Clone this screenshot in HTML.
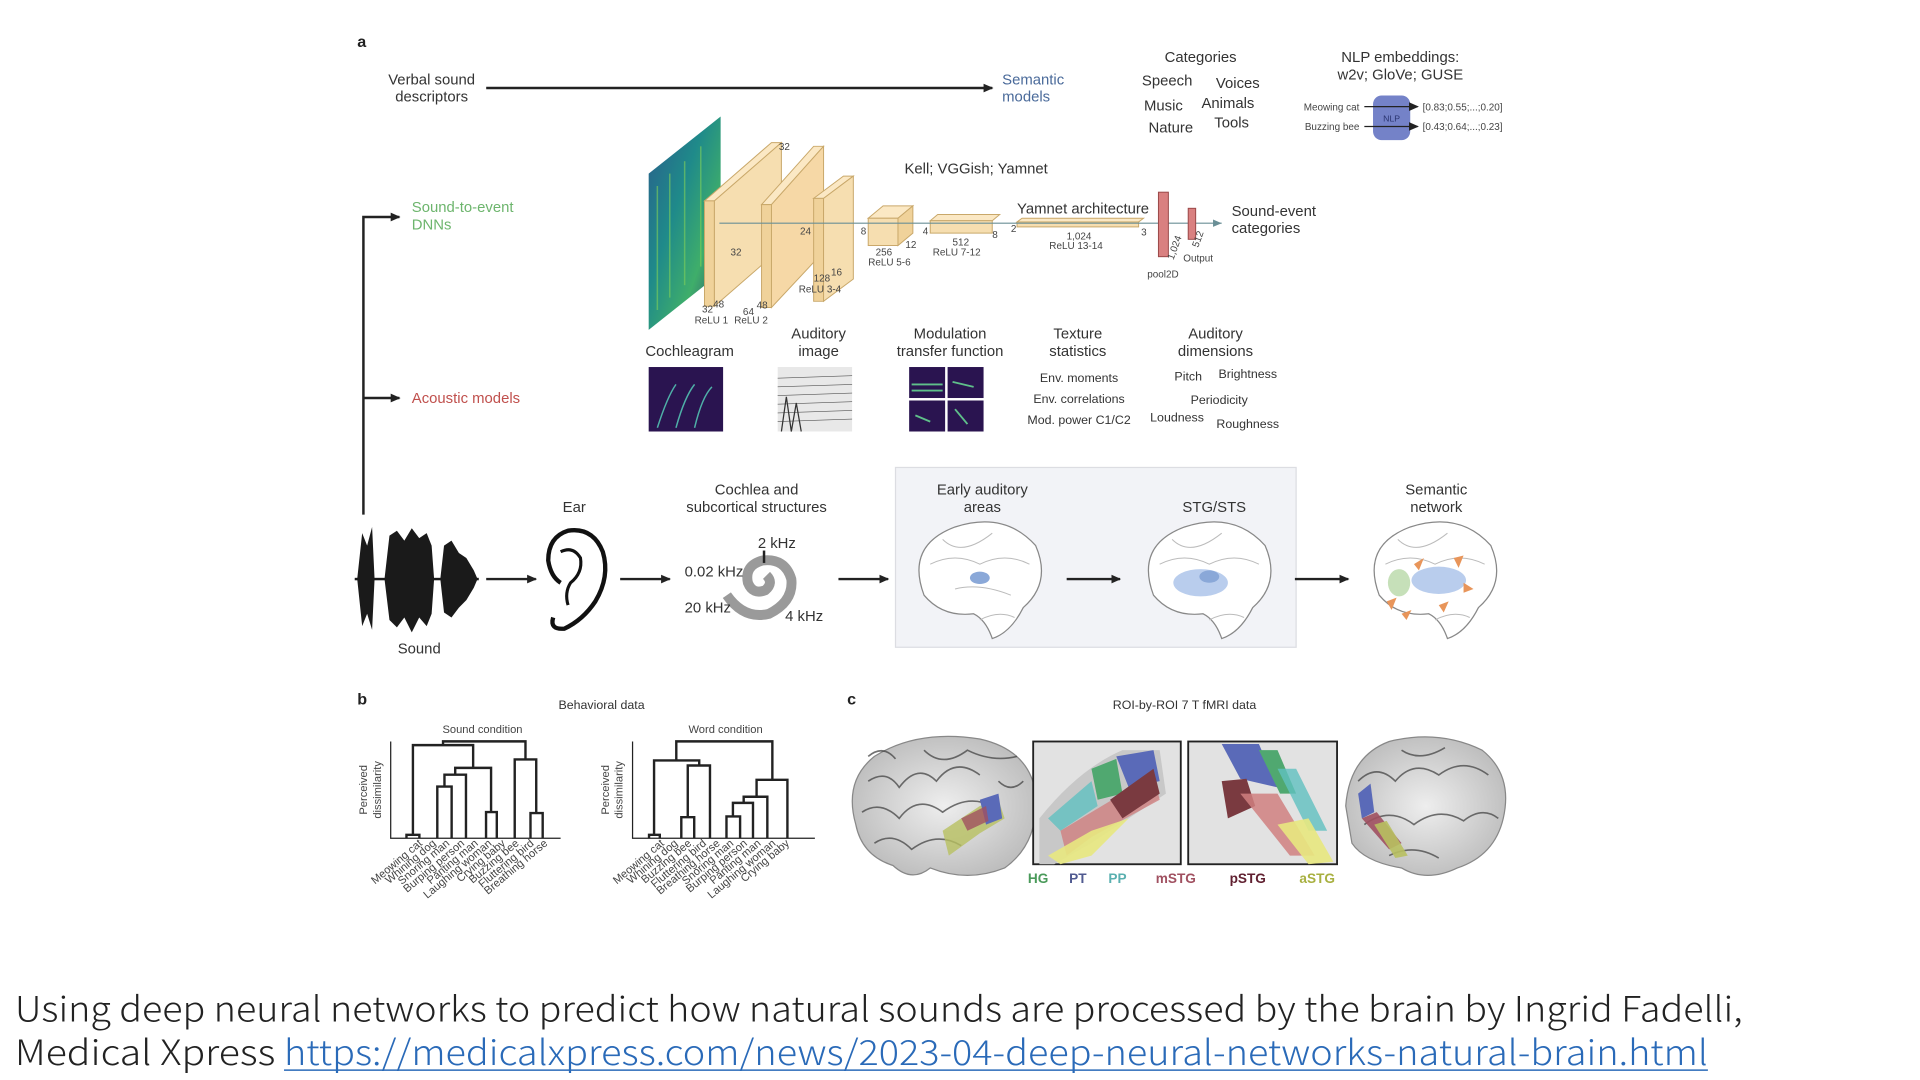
<!DOCTYPE html>
<html><head><meta charset="utf-8"><style>
html,body{margin:0;padding:0;background:#fff;}
svg{display:block;}
text{font-family:"Liberation Sans",sans-serif;}
.t{font-size:12px;fill:#333;}
.s{font-size:8px;fill:#444;}
.m{font-size:10px;fill:#333;}
</style></head><body>
<svg width="1920" height="1080" viewBox="0 0 1548 871" preserveAspectRatio="none" xmlns="http://www.w3.org/2000/svg">
<defs>
<marker id="ar" markerWidth="8" markerHeight="8" refX="7" refY="4" orient="auto" markerUnits="userSpaceOnUse"><path d="M0,0.5 L8,4 L0,7.5 z" fill="#222"/></marker>
<marker id="ag" markerWidth="8" markerHeight="8" refX="7" refY="4" orient="auto" markerUnits="userSpaceOnUse"><path d="M0,1 L7,4 L0,7 z" fill="#6a8f96"/></marker>
<linearGradient id="spec" x1="0" y1="0" x2="1" y2="1"><stop offset="0" stop-color="#2a5c8c"/><stop offset="0.4" stop-color="#1f8a8a"/><stop offset="0.7" stop-color="#3fae6a"/><stop offset="1" stop-color="#2b3f78"/></linearGradient>
<radialGradient id="gb" cx="0.5" cy="0.5" r="0.6"><stop offset="0" stop-color="#eeeeee"/><stop offset="1" stop-color="#b8b8b8"/></radialGradient>
</defs>

<text x="288" y="38" font-size="13" font-weight="bold" fill="#222">a</text>
<text class="t" x="348" y="68" text-anchor="middle">Verbal sound</text>
<text class="t" x="348" y="82" text-anchor="middle">descriptors</text>
<line x1="392" y1="71" x2="800" y2="71" stroke="#222" stroke-width="2" marker-end="url(#ar)"/>
<text class="t" x="808" y="68" style="fill:#4a6a9a">Semantic</text>
<text class="t" x="808" y="82" style="fill:#4a6a9a">models</text>

<text class="t" x="968" y="50" text-anchor="middle">Categories</text>
<text class="t" x="941" y="69" text-anchor="middle">Speech</text>
<text class="t" x="998" y="71" text-anchor="middle">Voices</text>
<text class="t" x="938" y="89" text-anchor="middle">Music</text>
<text class="t" x="990" y="87" text-anchor="middle">Animals</text>
<text class="t" x="944" y="107" text-anchor="middle">Nature</text>
<text class="t" x="993" y="103" text-anchor="middle">Tools</text>

<text class="t" x="1129" y="50" text-anchor="middle">NLP embeddings:</text>
<text class="t" x="1129" y="64" text-anchor="middle">w2v; GloVe; GUSE</text>
<rect x="1107" y="77" width="30" height="36" rx="7" fill="#7482c8"/>
<text x="1122" y="98" font-size="7" fill="#2a3470" text-anchor="middle">NLP</text>
<line x1="1100" y1="86" x2="1143" y2="86" stroke="#222" stroke-width="1" marker-end="url(#ar)"/>
<line x1="1100" y1="102" x2="1143" y2="102" stroke="#222" stroke-width="1" marker-end="url(#ar)"/>
<text class="s" x="1096" y="89" text-anchor="end">Meowing cat</text>
<text class="s" x="1096" y="105" text-anchor="end">Buzzing bee</text>
<text class="s" x="1147" y="89">[0.83;0.55;...;0.20]</text>
<text class="s" x="1147" y="105">[0.43;0.64;...;0.23]</text>

<polyline points="293,415 293,175 322,175" fill="none" stroke="#222" stroke-width="2" marker-end="url(#ar)"/>
<line x1="293" y1="321" x2="322" y2="321" stroke="#222" stroke-width="2" marker-end="url(#ar)"/>
<text class="t" x="332" y="171" style="fill:#6db56d">Sound-to-event</text>
<text class="t" x="332" y="185" style="fill:#6db56d">DNNs</text>
<text class="t" x="332" y="325" style="fill:#c0504d">Acoustic models</text>

<polygon points="523,140 581,94 581,220 523,266" fill="url(#spec)"/>
<g stroke="#7fd05a" stroke-width="1.2" opacity="0.6">
<line x1="530" y1="150" x2="530" y2="250"/><line x1="540" y1="140" x2="540" y2="240"/><line x1="552" y1="130" x2="552" y2="230"/><line x1="565" y1="118" x2="565" y2="215"/></g>
<polygon points="568,162 622,115 630,115 576,162" fill="#fbe8c4" stroke="#c9a86a" stroke-width="0.8"/>
<polygon points="568,162 576,162 576,247 568,247" fill="#f0d29a" stroke="#c9a86a" stroke-width="0.8"/>
<polygon points="576,162 630,115 630,200 576,247" fill="#f6deb0" stroke="#c9a86a" stroke-width="0.8"/>
<polygon points="614,165 656,118 664,118 622,165" fill="#fbe8c4" stroke="#c9a86a" stroke-width="0.8"/>
<polygon points="614,165 622,165 622,248 614,248" fill="#f0d29a" stroke="#c9a86a" stroke-width="0.8"/>
<polygon points="622,165 664,118 664,203 622,248" fill="#f6d8a6" stroke="#c9a86a" stroke-width="0.8"/>
<polygon points="656,160 680,142 688,142 664,160" fill="#fbe8c4" stroke="#c9a86a" stroke-width="0.8"/>
<polygon points="656,160 664,160 664,243 656,243" fill="#f0d29a" stroke="#c9a86a" stroke-width="0.8"/>
<polygon points="664,160 688,142 688,225 664,243" fill="#f6deb0" stroke="#c9a86a" stroke-width="0.8"/>
<polygon points="700,176 712,166 736,166 724,176" fill="#fbe8c4" stroke="#c9a86a" stroke-width="0.8"/>
<rect x="700" y="176" width="24" height="22" fill="#f6deb0" stroke="#c9a86a" stroke-width="0.8"/>
<polygon points="724,176 736,166 736,188 724,198" fill="#f0d29a" stroke="#c9a86a" stroke-width="0.8"/>
<polygon points="750,178 756,173 806,173 800,178" fill="#fbe8c4" stroke="#c9a86a" stroke-width="0.8"/>
<rect x="750" y="178" width="50" height="10" fill="#f6deb0" stroke="#c9a86a" stroke-width="0.8"/>
<polygon points="820,179 824,176 922,176 918,179" fill="#fbe8c4" stroke="#c9a86a" stroke-width="0.8"/>
<rect x="820" y="179" width="98" height="4" fill="#f6deb0" stroke="#c9a86a" stroke-width="0.8"/>
<line x1="580" y1="180" x2="985" y2="180" stroke="#6a8f96" stroke-width="1" marker-end="url(#ag)"/>
<rect x="934" y="155" width="8" height="52" fill="#d98080" stroke="#9a4848" stroke-width="0.8"/>
<rect x="958" y="168" width="6" height="25" fill="#d98080" stroke="#9a4848" stroke-width="0.8"/>
<g>
<text class="s" x="628" y="121">32</text><text class="s" x="589" y="206">32</text><text class="s" x="645" y="189">24</text>
<text class="s" x="566" y="252">32</text><text class="s" x="575" y="248">48</text><text class="s" x="560" y="261">ReLU 1</text>
<text class="s" x="599" y="254">64</text><text class="s" x="610" y="249">48</text><text class="s" x="592" y="261">ReLU 2</text>
<text class="s" x="656" y="227">128</text><text class="s" x="670" y="222">16</text><text class="s" x="644" y="236">ReLU 3-4</text>
<text class="s" x="694" y="189">8</text><text class="s" x="730" y="200">12</text><text class="s" x="706" y="206">256</text><text class="s" x="700" y="214">ReLU 5-6</text>
<text class="s" x="744" y="189">4</text><text class="s" x="800" y="192">8</text><text class="s" x="768" y="198">512</text><text class="s" x="752" y="206">ReLU 7-12</text>
<text class="s" x="815" y="187">2</text><text class="s" x="920" y="190">3</text><text class="s" x="860" y="193">1,024</text><text class="s" x="846" y="201">ReLU 13-14</text>
<text class="s" x="946" y="210" transform="rotate(-70 946 210)">1,024</text><text class="s" x="966" y="200" transform="rotate(-70 966 200)">512</text>
<text class="s" x="954" y="211">Output</text><text class="s" x="925" y="224">pool2D</text>
</g>
<text class="t" x="787" y="140" text-anchor="middle">Kell; VGGish; Yamnet</text>
<text class="t" x="820" y="172">Yamnet architecture</text>
<text class="t" x="993" y="174">Sound-event</text>
<text class="t" x="993" y="188">categories</text>

<text class="t" x="556" y="287" text-anchor="middle">Cochleagram</text>
<rect x="523" y="296" width="60" height="52" fill="#2a1450"/>
<g stroke="#4fb0a8" stroke-width="1.2" fill="none"><path d="M530,345 Q538,320 545,310"/><path d="M545,345 Q552,320 560,310"/><path d="M560,345 Q566,320 574,312"/></g>
<text class="t" x="660" y="273" text-anchor="middle">Auditory</text>
<text class="t" x="660" y="287" text-anchor="middle">image</text>
<rect x="627" y="296" width="60" height="52" fill="#e8e8e8"/>
<g stroke="#555" stroke-width="0.5"><line x1="627" y1="305" x2="687" y2="303"/><line x1="627" y1="312" x2="687" y2="310"/><line x1="627" y1="319" x2="687" y2="317"/><line x1="627" y1="326" x2="687" y2="324"/><line x1="627" y1="333" x2="687" y2="331"/><line x1="627" y1="340" x2="687" y2="338"/></g>
<path d="M630,348 L634,320 L638,348 L642,325 L646,348" stroke="#333" fill="none"/>
<text class="t" x="766" y="273" text-anchor="middle">Modulation</text>
<text class="t" x="766" y="287" text-anchor="middle">transfer function</text>
<rect x="733" y="296" width="29" height="25" fill="#2a1450"/><rect x="764" y="296" width="29" height="25" fill="#2a1450"/>
<rect x="733" y="323" width="29" height="25" fill="#2a1450"/><rect x="764" y="323" width="29" height="25" fill="#2a1450"/>
<g stroke="#5fc08a" stroke-width="1.5"><line x1="735" y1="310" x2="760" y2="310"/><line x1="735" y1="315" x2="760" y2="315"/><line x1="768" y1="308" x2="785" y2="312"/><line x1="738" y1="335" x2="750" y2="340"/><line x1="770" y1="330" x2="780" y2="342"/></g>
<text class="t" x="869" y="273" text-anchor="middle">Texture</text>
<text class="t" x="869" y="287" text-anchor="middle">statistics</text>
<text class="m" x="870" y="308" text-anchor="middle">Env. moments</text>
<text class="m" x="870" y="325" text-anchor="middle">Env. correlations</text>
<text class="m" x="870" y="342" text-anchor="middle">Mod. power C1/C2</text>
<text class="t" x="980" y="273" text-anchor="middle">Auditory</text>
<text class="t" x="980" y="287" text-anchor="middle">dimensions</text>
<text class="m" x="958" y="307" text-anchor="middle">Pitch</text>
<text class="m" x="1006" y="305" text-anchor="middle">Brightness</text>
<text class="m" x="983" y="326" text-anchor="middle">Periodicity</text>
<text class="m" x="949" y="340" text-anchor="middle">Loudness</text>
<text class="m" x="1006" y="345" text-anchor="middle">Roughness</text>

<rect x="722" y="377" width="323" height="145" fill="#f2f3f7" stroke="#dcdde2"/>
<text class="t" x="463" y="413" text-anchor="middle">Ear</text>
<text class="t" x="610" y="399" text-anchor="middle">Cochlea and</text>
<text class="t" x="610" y="413" text-anchor="middle">subcortical structures</text>
<text class="t" x="792" y="399" text-anchor="middle">Early auditory</text>
<text class="t" x="792" y="413" text-anchor="middle">areas</text>
<text class="t" x="979" y="413" text-anchor="middle">STG/STS</text>
<text class="t" x="1158" y="399" text-anchor="middle">Semantic</text>
<text class="t" x="1158" y="413" text-anchor="middle">network</text>
<text class="t" x="338" y="527" text-anchor="middle">Sound</text>
<g fill="#1a1a1a">
<path d="M288,467 L292,430 L296,440 L300,425 L302,467 L300,508 L296,495 L292,505 z"/>
<path d="M310,467 L314,432 L320,428 L326,436 L332,426 L338,434 L344,430 L348,440 L350,467 L348,495 L344,505 L338,498 L332,510 L326,498 L320,506 L314,500 z"/>
<path d="M355,467 L358,440 L364,436 L370,446 L376,450 L382,460 L385,467 L382,474 L376,484 L370,490 L364,498 L358,494 z"/>
<rect x="286" y="466" width="100" height="2"/>
</g>
<g stroke="#222" stroke-width="2" marker-end="url(#ar)">
<line x1="392" y1="467" x2="432" y2="467"/><line x1="500" y1="467" x2="540" y2="467"/><line x1="676" y1="467" x2="716" y2="467"/><line x1="860" y1="467" x2="903" y2="467"/><line x1="1044" y1="467" x2="1087" y2="467"/></g>
<path d="M446,498 Q443,508 455,507 Q470,500 480,485 Q492,465 486,445 Q478,425 458,428 Q442,433 442,452 Q444,465 452,470" fill="none" stroke="#111" stroke-width="3.5"/>
<path d="M452,445 Q462,440 468,450 Q470,462 460,470 Q455,478 458,488" fill="none" stroke="#111" stroke-width="2.5"/>
<path d="M586,480 Q600,500 620,495 Q640,485 638,467 Q633,450 615,452 Q600,456 603,470 Q607,480 617,476 Q624,470 618,464" fill="none" stroke="#9a9a9a" stroke-width="8"/>
<text class="t" x="611" y="442">2 kHz</text><line x1="616" y1="444" x2="616" y2="454" stroke="#222" stroke-width="2"/>
<text class="t" x="552" y="465">0.02 kHz</text>
<text class="t" x="552" y="494">20 kHz</text>
<text class="t" x="633" y="501">4 kHz</text>
<g fill="#fff" stroke="#888" stroke-width="1">
<path d="M745,480 Q730,440 770,425 Q810,412 835,440 Q848,470 825,490 Q815,510 800,515 Q795,500 785,495 Q760,498 745,480 z"/>
<path d="M930,480 Q915,440 955,425 Q995,412 1020,440 Q1033,470 1010,490 Q1000,510 985,515 Q980,500 970,495 Q945,498 930,480 z"/>
<path d="M1112,480 Q1097,440 1137,425 Q1177,412 1202,440 Q1215,470 1192,490 Q1182,510 1167,515 Q1162,500 1152,495 Q1127,498 1112,480 z"/>
</g>
<g fill="none" stroke="#bbb" stroke-width="0.8">
<path d="M750,455 Q770,445 790,455 Q810,445 830,455"/><path d="M760,435 Q775,450 800,430"/><path d="M770,475 Q790,470 815,480"/>
<path d="M935,455 Q955,445 975,455 Q995,445 1015,455"/><path d="M945,435 Q960,450 985,430"/>
<path d="M1117,455 Q1137,445 1157,455 Q1177,445 1197,455"/><path d="M1127,435 Q1142,450 1167,430"/>
<path d="M790,500 Q805,492 818,498"/><path d="M975,500 Q990,492 1003,498"/><path d="M1157,500 Q1172,492 1185,498"/>
</g>
<ellipse cx="790" cy="466" rx="8" ry="5" fill="#8aa8d8"/>
<ellipse cx="968" cy="470" rx="22" ry="11" fill="#a8c0e8" opacity="0.8"/><ellipse cx="975" cy="465" rx="8" ry="5" fill="#8aa8d8"/>
<ellipse cx="1160" cy="468" rx="22" ry="11" fill="#a8c0e8" opacity="0.8"/><ellipse cx="1128" cy="470" rx="9" ry="11" fill="#b8d8a8" opacity="0.8"/>
<g fill="#e8955a"><polygon points="1140,455 1148,450 1144,460"/><polygon points="1172,450 1180,448 1176,458"/><polygon points="1118,485 1126,482 1122,492"/><polygon points="1160,488 1168,485 1164,494"/><polygon points="1180,470 1188,475 1180,478"/><polygon points="1130,495 1138,492 1134,500"/></g>

<text x="288" y="568" font-size="13" font-weight="bold" fill="#222">b</text>
<text class="m" x="485" y="572" text-anchor="middle">Behavioral data</text>
<text class="s" x="389" y="591" text-anchor="middle" style="font-size:9px">Sound condition</text>
<text class="s" x="585" y="591" text-anchor="middle" style="font-size:9px">Word condition</text>
<g stroke="#222" stroke-width="1" fill="none">
<polyline points="315,598 315,676 452,676"/><polyline points="510,598 510,676 657,676"/>
</g>
<text class="s" transform="translate(296,637) rotate(-90)" text-anchor="middle" style="font-size:9px">Perceived</text>
<text class="s" transform="translate(307,637) rotate(-90)" text-anchor="middle" style="font-size:9px">dissimilarity</text>
<text class="s" transform="translate(491,637) rotate(-90)" text-anchor="middle" style="font-size:9px">Perceived</text>
<text class="s" transform="translate(502,637) rotate(-90)" text-anchor="middle" style="font-size:9px">dissimilarity</text>
<g transform="translate(315,676) scale(0.578,0.274) translate(-60,-472)" fill="none" stroke="#222" stroke-width="2.4">
<path vector-effect="non-scaling-stroke" d="M82,472 V462 H100 V472 M125,472 V320 H145 V472 M135,320 V285 H165 V472 M193,472 V395 H208 V472 M150,285 V265 H200 V395 M175,265 V198 H91 V462 M255,472 V398 H272 V472 M233,472 V240 H263 V398 M133,198 V187 H248 V240"/>
</g>
<g transform="translate(510,676) scale(0.578,0.274) translate(-372,-472)" fill="none" stroke="#222" stroke-width="2.4">
<path vector-effect="non-scaling-stroke" d="M395,472 V462 H410 V472 M440,472 V410 H458 V472 M449,410 V258 H480 V472 M465,258 V243 H402 V462 M503,472 V408 H522 V472 M512,408 V368 H540 V472 M527,368 V350 H560 V472 M545,350 V300 H588 V472 M433,243 V187 H567 V300"/>
</g>
<g>
<text transform="translate(341,681) rotate(-40)" text-anchor="end" class="s" style="font-size:9px">Meowing cat</text>
<text transform="translate(352,681) rotate(-40)" text-anchor="end" class="s" style="font-size:9px">Whining dog</text>
<text transform="translate(363,681) rotate(-40)" text-anchor="end" class="s" style="font-size:9px">Snoring man</text>
<text transform="translate(375,681) rotate(-40)" text-anchor="end" class="s" style="font-size:9px">Burping person</text>
<text transform="translate(386,681) rotate(-40)" text-anchor="end" class="s" style="font-size:9px">Panting man</text>
<text transform="translate(397,681) rotate(-40)" text-anchor="end" class="s" style="font-size:9px">Laughing woman</text>
<text transform="translate(408,681) rotate(-40)" text-anchor="end" class="s" style="font-size:9px">Crying baby</text>
<text transform="translate(419,681) rotate(-40)" text-anchor="end" class="s" style="font-size:9px">Buzzing bee</text>
<text transform="translate(431,681) rotate(-40)" text-anchor="end" class="s" style="font-size:9px">Fluttering bird</text>
<text transform="translate(442,681) rotate(-40)" text-anchor="end" class="s" style="font-size:9px">Breathing horse</text>
<text transform="translate(536,681) rotate(-40)" text-anchor="end" class="s" style="font-size:9px">Meowing cat</text>
<text transform="translate(547,681) rotate(-40)" text-anchor="end" class="s" style="font-size:9px">Whining dog</text>
<text transform="translate(558,681) rotate(-40)" text-anchor="end" class="s" style="font-size:9px">Buzzing bee</text>
<text transform="translate(570,681) rotate(-40)" text-anchor="end" class="s" style="font-size:9px">Fluttering bird</text>
<text transform="translate(581,681) rotate(-40)" text-anchor="end" class="s" style="font-size:9px">Breathing horse</text>
<text transform="translate(592,681) rotate(-40)" text-anchor="end" class="s" style="font-size:9px">Snoring man</text>
<text transform="translate(603,681) rotate(-40)" text-anchor="end" class="s" style="font-size:9px">Burping person</text>
<text transform="translate(614,681) rotate(-40)" text-anchor="end" class="s" style="font-size:9px">Panting man</text>
<text transform="translate(626,681) rotate(-40)" text-anchor="end" class="s" style="font-size:9px">Laughing woman</text>
<text transform="translate(637,681) rotate(-40)" text-anchor="end" class="s" style="font-size:9px">Crying baby</text>
</g>

<text x="683" y="568" font-size="13" font-weight="bold" fill="#222">c</text>
<text class="m" x="955" y="572" text-anchor="middle">ROI-by-ROI 7 T fMRI data</text>
<path d="M690,665 Q680,630 705,610 Q740,588 790,596 Q830,605 835,640 Q838,680 810,700 Q780,712 750,700 Q735,712 720,698 Q695,690 690,665 z" fill="url(#gb)" stroke="#888"/>
<g stroke="#444" stroke-width="1.3" fill="none" opacity="0.75"><path d="M700,630 Q715,620 725,635 Q740,615 755,630 Q770,610 790,625"/><path d="M695,655 Q710,645 725,660 Q740,640 760,655 Q780,640 800,650"/><path d="M705,680 Q720,670 735,685 Q755,670 775,682"/><path d="M745,605 Q760,620 780,605 Q800,615 820,610"/><path d="M700,610 Q712,600 722,612"/><path d="M805,630 Q815,640 825,630"/></g>
<path d="M760,670 L790,650 L805,645 L810,660 L790,672 L765,690 z" fill="#b8c060" opacity="0.8"/>
<path d="M790,645 L805,640 L808,660 L795,665 z" fill="#5a6ab8"/>
<path d="M775,660 L795,650 L797,662 L780,670 z" fill="#a05060" opacity="0.8"/>
<rect x="833" y="598" width="119" height="99" fill="#e2e2e2" stroke="#222" stroke-width="1.5"/>
<path d="M838,660 Q870,620 905,605 L935,605 L940,640 L880,680 L850,697 L838,697 z" fill="#c8c8c8"/>
<polygon points="900,610 930,605 935,630 910,635" fill="#5a6ab8"/>
<polygon points="880,620 900,612 905,640 885,645" fill="#50a870"/>
<polygon points="845,660 880,630 885,650 855,670" fill="#60c0c0" opacity="0.8"/>
<polygon points="855,670 905,640 930,625 935,645 880,675 860,690" fill="#d08080" opacity="0.8"/>
<polygon points="895,645 930,620 935,640 905,660" fill="#7a3a40"/>
<polygon points="845,690 880,670 910,660 880,690 855,697" fill="#e8e880" opacity="0.9"/>
<rect x="958" y="598" width="120" height="99" fill="#e2e2e2" stroke="#222" stroke-width="1.5"/>
<polygon points="985,600 1015,600 1030,635 1000,628" fill="#5a6ab8"/>
<polygon points="1015,605 1030,605 1045,640 1032,640" fill="#50a870"/>
<polygon points="1030,620 1045,620 1070,670 1055,670" fill="#60c0c0" opacity="0.8"/>
<polygon points="985,630 1005,628 1012,650 990,660" fill="#7a3a40"/>
<polygon points="1000,640 1030,640 1060,690 1040,690" fill="#d08080" opacity="0.85"/>
<polygon points="1030,665 1055,660 1075,695 1055,697" fill="#e8e880" opacity="0.9"/>
<path d="M1085,650 Q1088,610 1120,598 Q1160,588 1195,605 Q1220,625 1212,660 Q1205,690 1175,700 Q1150,712 1130,700 Q1100,695 1090,680 z" fill="url(#gb)" stroke="#888"/>
<g stroke="#444" stroke-width="1.3" fill="none" opacity="0.75"><path d="M1095,630 Q1110,615 1125,630 Q1140,612 1160,625 Q1180,610 1200,625"/><path d="M1100,665 Q1120,650 1140,665 Q1160,650 1180,662 Q1195,650 1208,660"/><path d="M1120,690 Q1140,680 1160,692"/><path d="M1130,605 Q1145,615 1165,603"/></g>
<polygon points="1095,640 1105,632 1108,655 1098,660" fill="#5a6ab8"/>
<polygon points="1098,660 1110,655 1130,680 1120,685" fill="#a05060" opacity="0.9"/>
<polygon points="1108,665 1118,662 1135,690 1125,692" fill="#b8c060" opacity="0.9"/>
<g font-size="11" font-weight="bold">
<text x="837" y="712" text-anchor="middle" fill="#4a9a5a">HG</text>
<text x="869" y="712" text-anchor="middle" fill="#505a90">PT</text>
<text x="901" y="712" text-anchor="middle" fill="#5ab0b0">PP</text>
<text x="948" y="712" text-anchor="middle" fill="#a05060">mSTG</text>
<text x="1006" y="712" text-anchor="middle" fill="#602030">pSTG</text>
<text x="1062" y="712" text-anchor="middle" fill="#a8b040">aSTG</text>
</g>

<g font-size="28" fill="#222">
<text x="12" y="824" textLength="1393" lengthAdjust="spacingAndGlyphs" style="font-family:'Noto Sans CJK JP','Liberation Sans',sans-serif;font-weight:300">Using deep neural networks to predict how natural sounds are processed by the brain by Ingrid Fadelli,</text>
<text x="12" y="859" textLength="210" lengthAdjust="spacingAndGlyphs" style="font-family:'Noto Sans CJK JP','Liberation Sans',sans-serif;font-weight:300">Medical Xpress</text>
<text x="229" y="859" textLength="1148" lengthAdjust="spacingAndGlyphs" style="font-family:'Noto Sans CJK JP','Liberation Sans',sans-serif;font-weight:300;fill:#2a6ab8">https://medicalxpress.com/news/2023-04-deep-neural-networks-natural-brain.html</text>
</g>
<line x1="229" y1="863" x2="1377" y2="863" stroke="#2a6ab8" stroke-width="1.2"/>
</svg>
</body></html>
